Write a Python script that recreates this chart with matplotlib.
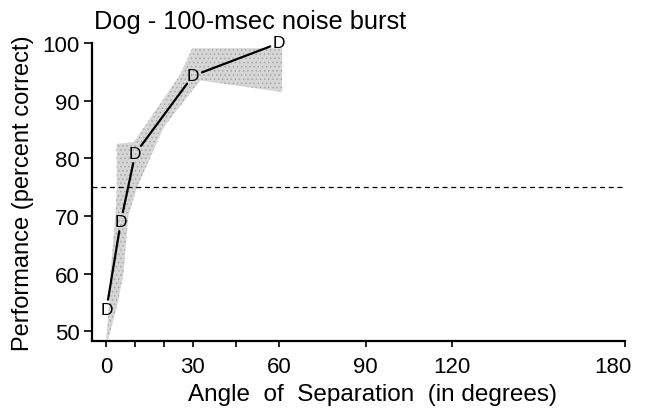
import matplotlib
matplotlib.use("Agg")
import matplotlib.pyplot as plt
from matplotlib.transforms import ScaledTranslation

plt.rcParams['font.family'] = ['Liberation Sans', 'DejaVu Sans']
plt.rcParams['hatch.linewidth'] = 0.6

# Data
angles = [0, 5, 10, 30, 60]
performance = [53.8, 69.0, 80.8, 94.3, 100.0]

# Shaded band outline (upper/left edge and lower/right edge, left -> right)
band_upper_x = [0.0, 1.0, 1.4, 3.1, 3.6, 3.5, 9.5, 25.7, 29.8, 61.0]
band_upper_y = [49.0, 55.0, 60.0, 70.0, 75.0, 82.5, 82.8, 94.6, 99.1, 99.1]
band_lower_x = [0.5, 4.0, 5.9, 7.6, 10.7, 20.0, 32.6, 61.0]
band_lower_y = [48.3, 55.0, 60.0, 70.0, 75.0, 85.5, 93.5, 91.5]

threshold = 75
xtick_major = [0, 30, 60, 90, 120, 180]
xtick_minor = [10, 20, 45]
ytick_major = [50, 60, 70, 80, 90, 100]

fig = plt.figure(figsize=(6.49, 4.10), dpi=100)
ax = fig.add_axes([0.1418, 0.1659, 0.8213, 0.7268])

poly_x = band_upper_x + band_lower_x[::-1]
poly_y = band_upper_y + band_lower_y[::-1]
ax.fill(poly_x, poly_y, facecolor='#d6d6d6', edgecolor='#a8a8a8', lw=0,
        hatch='....', zorder=1)

# connecting line segments, stopping short of the letter markers
for i in range(len(angles) - 1):
    ax.annotate('', xy=(angles[i + 1], performance[i + 1]),
                xytext=(angles[i], performance[i]),
                arrowprops=dict(arrowstyle='-', color='black', lw=1.6,
                                shrinkA=7, shrinkB=7), zorder=2)
for a, p in zip(angles, performance):
    ax.text(a, p, 'D', ha='center', va='center', fontsize=12.5, zorder=3)

ax.axhline(threshold, color='black', lw=0.9, ls=(0, (4, 3)), xmin=0, xmax=1.005, zorder=1.5)

ax.set_xlim(-5, 180)
ax.set_ylim(48.3, 100)
ax.set_xticks(xtick_major)
ax.set_xticks(xtick_minor, minor=True)
ax.set_yticks(ytick_major)
ax.tick_params(axis='both', labelsize=16, direction='out', width=1.2)
ax.tick_params(axis='x', which='major', length=4, pad=7)
ax.tick_params(axis='x', which='minor', length=4, width=1.2)
ax.tick_params(axis='y', length=6, pad=3)

for s in ['top', 'right']:
    ax.spines[s].set_visible(False)
ax.spines['left'].set_linewidth(1.6)
ax.spines['bottom'].set_linewidth(1.6)
ax.spines['left'].set_bounds(48.3, 100)

ax.set_xlabel('Angle  of  Separation  (in degrees)', fontsize=17.5, labelpad=0)
ax.xaxis.set_label_coords(0.527, -0.14)
ax.set_ylabel('Performance (percent correct)', fontsize=17, labelpad=6)
fig.text(0.145, 0.93, 'Dog - 100-msec noise burst', fontsize=18.3)

# the "180" label sits slightly left of its tick in the original
last = ax.get_xticklabels()[-1]
last.set_transform(last.get_transform() + ScaledTranslation(-12 / 100, 0, fig.dpi_scale_trans))

fig.savefig('out.png', dpi=100)
